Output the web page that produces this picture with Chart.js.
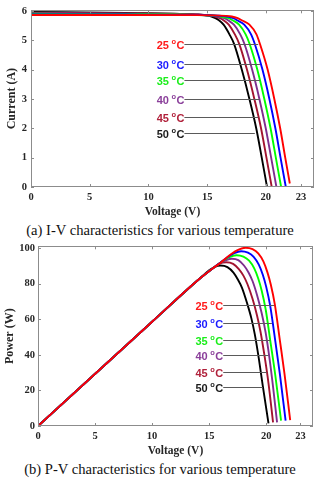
<!DOCTYPE html>
<html><head><meta charset="utf-8">
<script src="https://cdn.jsdelivr.net/npm/chart.js@4/dist/chart.umd.min.js"></script>
<style>
html,body{margin:0;padding:0;background:#fff;}
#wrap{position:relative;width:320px;height:480px;overflow:hidden;background:#fff;}
canvas{position:absolute;left:0;}
.cap{position:absolute;left:0;width:320px;text-align:center;font-family:"Liberation Serif","Times New Roman",serif;font-size:14.6px;color:#111;line-height:16px;white-space:nowrap;}
</style></head><body>
<div id="wrap">
<canvas id="c1" width="320" height="222" style="top:0"></canvas>
<div class="cap" style="top:222px">(a) I-V characteristics for various temperature</div>
<canvas id="c2" width="320" height="223" style="top:237px"></canvas>
<div class="cap" style="top:461px">(b) P-V characteristics for various temperature</div>
</div>
<script>
// ---------- data ----------
const temps = ['25', '30', '35', '40', '45', '50'];
const voltageTicks = [0, 5, 10, 15, 20, 23];
const currentTicks = [0, 1, 2, 3, 4, 5, 6];
const powerTicks = [0, 20, 40, 60, 80, 100];

// I-V curves (voltage V, current A)
const iv25V = [0, 8, 14, 16.6, 17.1, 17.6, 17.95, 18.6, 19.2, 19.5, 20.15, 20.72, 21.22, 21.65, 22.04];
const iv25I = [5.86, 5.86, 5.855, 5.83, 5.81, 5.75, 5.68, 5.53, 5.2, 4.87, 4.0, 3.0, 2.0, 1.0, 0.12];
const iv30V = [0, 8, 14, 16.4, 17.22, 17.56, 18.16, 18.74, 19.06, 19.71, 20.30, 20.81, 21.25, 21.7];
const iv30I = [5.88, 5.875, 5.86, 5.82, 5.75, 5.68, 5.53, 5.2, 4.87, 4.0, 3.0, 2.0, 1.0, 0];
const iv35V = [0, 8, 14, 16.0, 16.84, 17.17, 17.72, 18.28, 18.62, 19.27, 19.87, 20.40, 20.85, 21.3];
const iv35I = [5.90, 5.89, 5.865, 5.82, 5.75, 5.68, 5.53, 5.2, 4.87, 4.0, 3.0, 2.0, 1.0, 0];
const iv40V = [0, 8, 14, 15.7, 16.46, 16.78, 17.28, 17.82, 18.18, 18.83, 19.45, 19.99, 20.45, 20.9];
const iv40I = [5.92, 5.90, 5.87, 5.825, 5.75, 5.68, 5.53, 5.2, 4.87, 4.0, 3.0, 2.0, 1.0, 0];
const iv45V = [0, 8, 14, 15.4, 16.08, 16.39, 16.84, 17.36, 17.74, 18.39, 19.02, 19.59, 20.05, 20.5];
const iv45I = [5.94, 5.915, 5.875, 5.83, 5.75, 5.68, 5.53, 5.2, 4.87, 4.0, 3.0, 2.0, 1.0, 0];
const iv50V = [0, 8, 14, 15.1, 15.7, 16.0, 16.4, 16.9, 17.3, 17.95, 18.6, 19.18, 19.65, 20.1];
const iv50I = [5.96, 5.93, 5.88, 5.84, 5.75, 5.68, 5.53, 5.2, 4.87, 4.0, 3.0, 2.0, 1.0, 0];

// P-V curves (voltage V, power W)
const pv25V = [0, 10, 14, 15.3, 16.0, 16.6, 17.4, 18.2, 18.8, 19.3, 19.75, 20.1, 20.4, 20.75, 21.2, 21.6, 22.1];
const pv25P = [0, 58.6, 81.9, 88.5, 91.8, 95.0, 98.6, 100.2, 99.4, 97.0, 92.5, 86.5, 79.5, 68.5, 48.0, 29.5, 3.3];
const pv30V = [0, 10, 14, 15.3, 16.0, 16.6, 17.2, 17.8, 18.4, 18.9, 19.35, 19.7, 20.0, 20.35, 20.8, 21.2, 21.7];
const pv30P = [0, 58.6, 81.9, 88.5, 91.9, 94.8, 97.1, 98.2, 97.4, 95.1, 90.7, 85.0, 78.2, 67.5, 47.5, 29.0, 3.0];
const pv35V = [0, 10, 14, 15.3, 16.0, 16.7, 17.4, 18.0, 18.5, 18.95, 19.3, 19.6, 19.95, 20.4, 20.8, 21.3];
const pv35P = [0, 58.6, 81.9, 88.5, 91.9, 94.7, 96.0, 95.2, 92.9, 88.6, 82.9, 76.2, 65.6, 46.0, 28.3, 3.0];
const pv40V = [0, 10, 14, 15.3, 16.0, 16.5, 17.0, 17.55, 18.05, 18.45, 18.8, 19.2, 19.6, 19.95, 20.3, 20.6, 20.95];
const pv40P = [0, 58.6, 81.9, 88.5, 91.8, 93.3, 94.0, 93.2, 90.2, 86.3, 81.5, 73.5, 63.5, 52.5, 37.5, 22.0, 2.0];
const pv45V = [0, 10, 14, 15.3, 15.9, 16.5, 17.1, 17.6, 18.0, 18.35, 18.8, 19.2, 19.5, 19.85, 20.2, 20.6];
const pv45P = [0, 58.6, 81.9, 88.5, 91.2, 92.0, 91.1, 88.2, 84.5, 79.8, 71.5, 62.0, 53.0, 39.5, 24.0, 2.0];
const pv50V = [0, 10, 14, 15.0, 15.5, 16.0, 16.6, 17.13, 17.5, 17.87, 18.3, 18.7, 19.0, 19.35, 19.7, 20.2];
const pv50P = [0, 58.6, 81.9, 87.6, 89.5, 90.2, 89.3, 86.2, 82.5, 77.8, 69.5, 60.5, 51.5, 38.0, 22.5, 1.5];

// temperature label anchors (data units)
const ivLabelI = [4.86, 4.2, 3.65, 3.0, 2.4, 1.84];
const ivLabelStartV = 10.7;
const ivLabelEndV = [19.35, 19.5, 19.5, 19.5, 19.35, 19.06];
const pvLabelP = [68.2, 57.9, 48.6, 39.7, 30.3, 22.0];
const pvLabelStartV = 13.8;
const pvLabelEndV = [20.7, 20.5, 20.35, 20.2, 20.05, 19.7];

// ---------- style ----------
const lineColors = ['#ff0000', '#0000ff', '#00ff00', '#7e2f8e', '#a2142f', '#000000'];
const labelColors = ['#ff1a1a', '#1a1aff', '#1aee1a', '#8a3f9a', '#b0203a', '#1a1a1a'];
const SERIF = '"Liberation Serif","Times New Roman",serif';
const SANS = '"Liberation Sans",Arial,sans-serif';
const TXT = '#262626';

const ivSeries = [[iv25V, iv25I], [iv30V, iv30I], [iv35V, iv35I], [iv40V, iv40I], [iv45V, iv45I], [iv50V, iv50I]];
const pvSeries = [[pv25V, pv25P], [pv30V, pv30P], [pv35V, pv35P], [pv40V, pv40P], [pv45V, pv45P], [pv50V, pv50P]];

function buildDatasets(series) {
  return series.map(([xs, ys], k) => ({
    label: temps[k] + ' °C',
    data: xs.map((v, j) => ({x: v, y: ys[j]})),
    borderColor: lineColors[k],
    backgroundColor: lineColors[k],
    borderWidth: 1.9,
    pointRadius: 0,
    fill: false,
    cubicInterpolationMode: 'monotone'
  }));
}

const framePlugin = {
  id: 'frameAndLabels',
  afterDatasetsDraw(chart, args, opts) {
    const {ctx, chartArea: a, scales: {x, y}} = chart;
    ctx.save();
    ctx.strokeStyle = '#8c8c8c';
    ctx.lineWidth = 1;
    ctx.strokeRect(Math.round(a.left) + 0.5, Math.round(a.top) + 0.5,
                   Math.round(a.right - a.left) - 1, Math.round(a.bottom - a.top) - 1);
    const tl = 3;
    ctx.beginPath();
    x.ticks.forEach(t => {
      const px = Math.round(x.getPixelForValue(t.value)) + 0.5;
      ctx.moveTo(px, a.bottom); ctx.lineTo(px, a.bottom - tl);
      ctx.moveTo(px, a.top); ctx.lineTo(px, a.top + tl);
    });
    y.ticks.forEach(t => {
      const py = Math.round(y.getPixelForValue(t.value)) + 0.5;
      ctx.moveTo(a.left, py); ctx.lineTo(a.left + tl, py);
      ctx.moveTo(a.right, py); ctx.lineTo(a.right - tl, py);
    });
    ctx.stroke();
    const L = opts;
    temps.forEach((t, i) => {
      const yy = Math.round(y.getPixelForValue(L.ys[i])) + 0.5;
      const x0 = x.getPixelForValue(L.startV);
      ctx.fillStyle = labelColors[i];
      ctx.textAlign = 'left';
      ctx.textBaseline = 'middle';
      ctx.font = 'bold 11px ' + SANS;
      ctx.fillText(t, x0, yy + 1);
      let cx = x0 + ctx.measureText(t).width + 2.5;
      ctx.font = 'bold 7.5px ' + SANS;
      ctx.fillText('o', cx, yy - 3);
      cx += ctx.measureText('o').width + 0.5;
      ctx.font = 'bold 11px ' + SANS;
      ctx.fillText('C', cx, yy + 1);
      cx += ctx.measureText('C').width;
      ctx.strokeStyle = '#5a5a5a';
      ctx.lineWidth = 1;
      ctx.beginPath();
      ctx.moveTo(cx, yy);
      ctx.lineTo(x.getPixelForValue(L.endV[i]), yy);
      ctx.stroke();
    });
    ctx.restore();
  }
};

function makeChart(id, series, yCfg, geo, labels) {
  return new Chart(document.getElementById(id), {
    type: 'line',
    data: {datasets: buildDatasets(series)},
    plugins: [framePlugin],
    options: {
      responsive: false,
      animation: false,
      events: [],
      layout: {padding: {top: geo.padTop, right: geo.padRight, left: 0, bottom: 0}},
      plugins: {
        legend: {display: false},
        tooltip: {enabled: false},
        frameAndLabels: labels
      },
      scales: {
        x: {
          type: 'linear', min: 0, max: 24.1,
          afterBuildTicks: s => { s.ticks = voltageTicks.map(v => ({value: v})); },
          afterFit: s => { s.height = geo.xHeight; },
          grid: {display: false, drawTicks: false},
          border: {display: false},
          ticks: {font: {family: SERIF, weight: 'bold', size: 10.5}, color: TXT, padding: geo.xTickPad,
                  maxRotation: 0, autoSkip: false, callback: v => String(v)},
          title: {display: true, text: 'Voltage (V)', color: TXT,
                  font: {family: SERIF, weight: 'bold', size: 11.5},
                  padding: {top: 0, bottom: geo.xTitlePad}}
        },
        y: {
          type: 'linear', min: 0, max: yCfg.max,
          afterBuildTicks: s => { s.ticks = yCfg.ticks.map(v => ({value: v})); },
          afterFit: s => { s.width = geo.yWidth; },
          grid: {display: false, drawTicks: false},
          border: {display: false},
          ticks: {font: {family: SERIF, weight: 'bold', size: 10.5}, color: TXT, padding: geo.yTickPad,
                  callback: v => String(v)},
          title: {display: true, text: yCfg.title, color: TXT,
                  font: {family: SERIF, weight: 'bold', size: 12},
                  padding: {top: geo.yTitlePad, bottom: 0}}
        }
      }
    }
  });
}

makeChart('c1', ivSeries,
  {max: 6.02, ticks: currentTicks, title: 'Current (A)'},
  {padTop: 5, padRight: 6, xHeight: 35, yWidth: 31, xTickPad: 4, xTitlePad: 3, yTickPad: 4, yTitlePad: 5},
  {ys: ivLabelI, startV: ivLabelStartV, endV: ivLabelEndV});

makeChart('c2', pvSeries,
  {max: 101, ticks: powerTicks, title: 'Power (W)'},
  {padTop: 8, padRight: 7, xHeight: 34, yWidth: 38, xTickPad: 4, xTitlePad: 2, yTickPad: 3, yTitlePad: 3},
  {ys: pvLabelP, startV: pvLabelStartV, endV: pvLabelEndV});
</script>
</body></html>
